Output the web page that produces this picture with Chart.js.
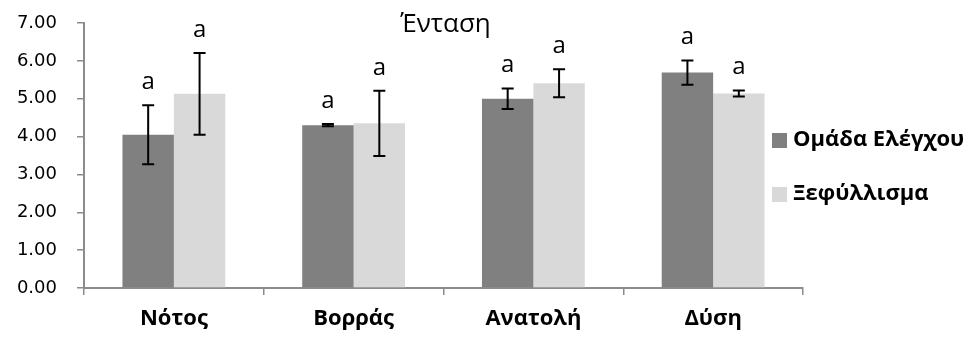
<!DOCTYPE html>
<html>
<head>
<meta charset="utf-8">
<script src="https://cdn.jsdelivr.net/npm/chart.js@4.4.1/dist/chart.umd.min.js"></script>
<style>
  html, body { margin: 0; padding: 0; background: #ffffff; }
  #wrap { width: 971px; height: 337px; position: relative; }
</style>
</head>
<body>
<div id="wrap"><canvas id="c" width="971" height="337"></canvas></div>
<script>
// ---- Data ----
const categories = ['Νότος', 'Βορράς', 'Ανατολή', 'Δύση'];
const seriesNames = ['Ομάδα Ελέγχου', 'Ξεφύλλισμα'];
const controlValues = [4.05, 4.30, 5.00, 5.69];
const controlErrors = [0.78, 0.03, 0.27, 0.32];
const controlLetters = ['a', 'a', 'a', 'a'];
const leafValues = [5.13, 4.35, 5.41, 5.14];
const leafErrors = [1.08, 0.86, 0.37, 0.08];
const leafLetters = ['a', 'a', 'a', 'a'];
const yTicks = [0, 1, 2, 3, 4, 5, 6, 7];
const chartTitle = 'Ένταση';

const AXIS = '#8c8c8c';
const FONT = "'Open Sans', 'DejaVu Sans', sans-serif";
const TICKFONT = "'DejaVu Sans', sans-serif";

const errorBarsPlugin = {
  id: 'errorBars',
  afterDatasetsDraw(chart) {
    const ctx = chart.ctx;
    const y = chart.scales.y;
    chart.data.datasets.forEach((ds, di) => {
      const meta = chart.getDatasetMeta(di);
      meta.data.forEach((bar, i) => {
        const v = ds.data[i], e = ds.errors[i];
        const yHi = y.getPixelForValue(v + e);
        const yLo = y.getPixelForValue(v - e);
        const x = bar.x;
        ctx.save();
        ctx.strokeStyle = '#000000';
        ctx.lineWidth = 2;
        ctx.beginPath();
        ctx.moveTo(x, yHi); ctx.lineTo(x, yLo);
        ctx.moveTo(x - 6, yHi); ctx.lineTo(x + 6, yHi);
        ctx.moveTo(x - 6, yLo); ctx.lineTo(x + 6, yLo);
        ctx.stroke();
        // significance letter
        ctx.fillStyle = '#000000';
        ctx.font = '24px ' + FONT;
        ctx.textAlign = 'center';
        ctx.textBaseline = 'alphabetic';
        ctx.fillText(ds.letters[i], x, yHi - 16);
        ctx.restore();
      });
    });
  }
};

const titleLegendPlugin = {
  id: 'titleLegend',
  afterDraw(chart) {
    const ctx = chart.ctx;
    const area = chart.chartArea;
    ctx.save();
    // title
    ctx.fillStyle = '#000000';
    ctx.font = '26px ' + FONT;
    ctx.textAlign = 'center';
    ctx.textBaseline = 'middle';
    ctx.fillText(chartTitle, (area.left + area.right) / 2 + 2, 25);
    // legend
    chart.data.datasets.forEach((ds, i) => {
      const cy = 140 + i * 54;
      ctx.fillStyle = ds.backgroundColor;
      ctx.fillRect(area.right - 31, cy - 7, 15, 15);
      ctx.fillStyle = '#000000';
      ctx.font = 'bold 22px ' + FONT;
      ctx.textAlign = 'left';
      ctx.textBaseline = 'middle';
      ctx.fillText(ds.label, area.right - 10, cy);
    });
    ctx.restore();
  }
};

new Chart(document.getElementById('c'), {
  type: 'bar',
  data: {
    labels: categories,
    datasets: [
      { label: seriesNames[0], data: controlValues, errors: controlErrors, letters: controlLetters,
        backgroundColor: '#808080', borderWidth: 0 },
      { label: seriesNames[1], data: leafValues, errors: leafErrors, letters: leafLetters,
        backgroundColor: '#d9d9d9', borderWidth: 0 }
    ]
  },
  options: {
    responsive: false,
    animation: false,
    events: [],
    layout: { padding: { top: 23, right: 168, bottom: 0, left: 0 } },
    datasets: { bar: { categoryPercentage: 0.572, barPercentage: 1.0 } },
    plugins: {
      legend: { display: false },
      title: { display: false },
      tooltip: { enabled: false }
    },
    scales: {
      x: {
        offset: true,
        grid: { display: true, drawOnChartArea: false, drawTicks: true, tickLength: 7, color: AXIS, lineWidth: 1.5, offset: true },
        border: { display: true, color: AXIS, width: 2 },
        ticks: { color: '#000000', font: { family: FONT, size: 22, weight: 'bold' }, padding: 11 },
        afterFit(scale) { scale.height = 49; scale.paddingLeft = 0; scale.paddingRight = 0; }
      },
      y: {
        min: 0, max: 7,
        afterBuildTicks(scale) { scale.ticks = yTicks.map(v => ({ value: v })); },
        grid: { display: true, drawOnChartArea: false, drawTicks: true, tickLength: 7, color: AXIS, lineWidth: 1.5 },
        border: { display: true, color: AXIS, width: 2 },
        ticks: { color: '#000000', font: { family: TICKFONT, size: 18 }, padding: 20,
                 callback: (v) => Number(v).toFixed(2) },
        afterFit(scale) { scale.width = 84; scale.paddingTop = 0; scale.paddingBottom = 0; }
      }
    }
  },
  plugins: [errorBarsPlugin, titleLegendPlugin]
});
</script>
</body>
</html>
